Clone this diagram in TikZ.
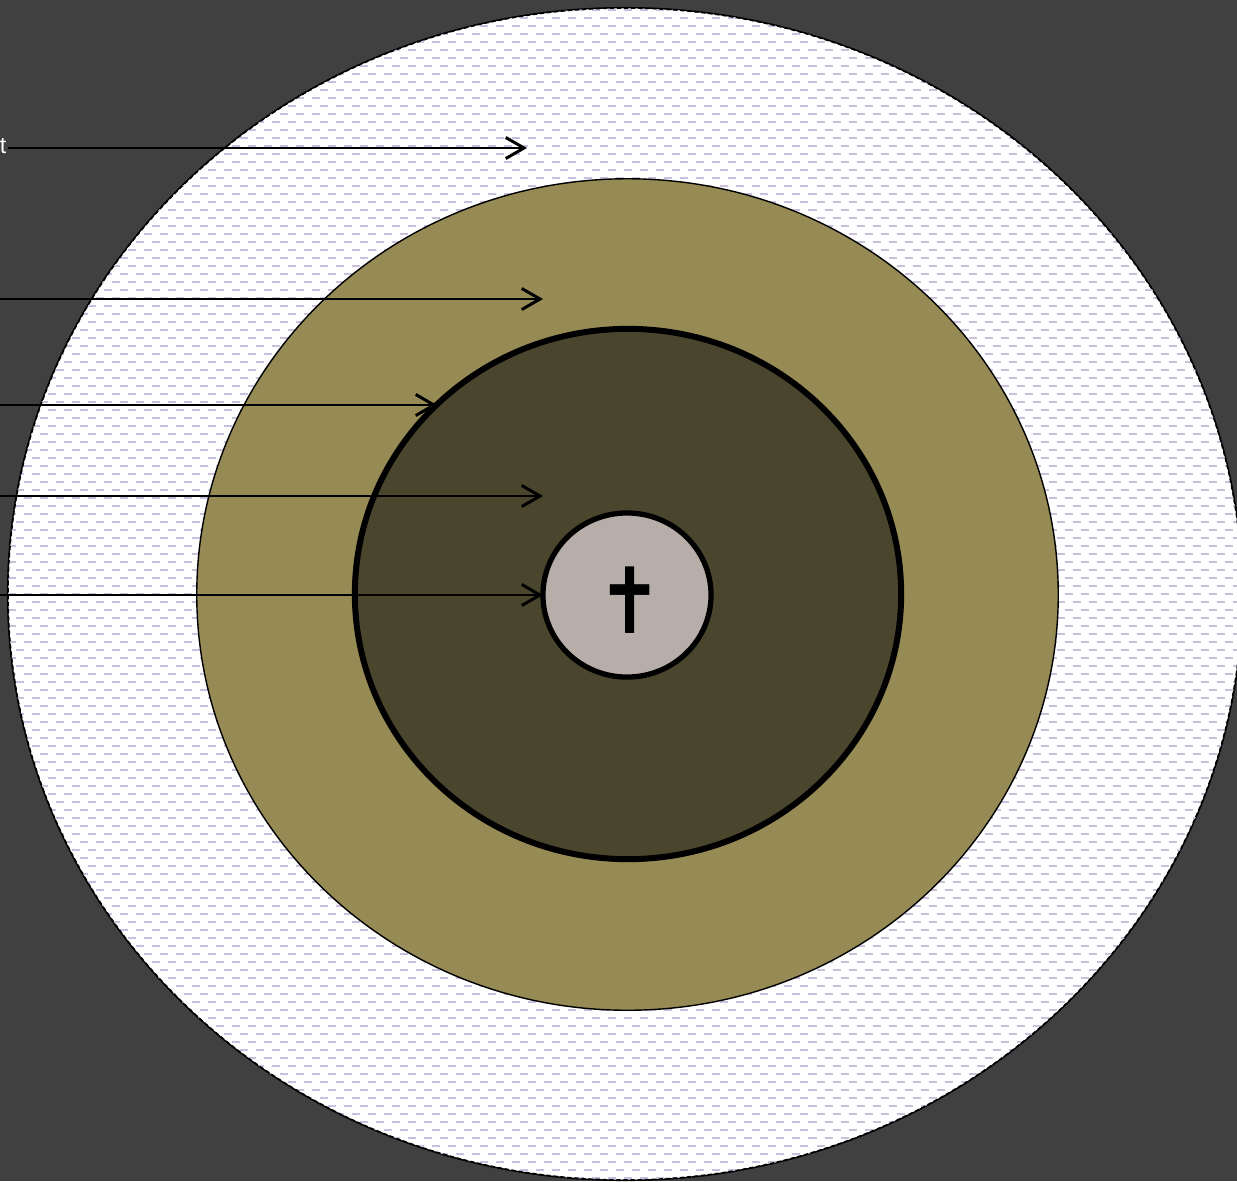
\documentclass[tikz,border=0pt]{standalone}
\usepackage{fontspec}
\setmainfont{Liberation Sans}
\newfontfamily\crossfont{DejaVu Sans}
\usetikzlibrary{shapes.geometric,arrows.meta}
\definecolor{bgc}{HTML}{404040}
\definecolor{olive}{HTML}{968A55}
\definecolor{darkolive}{HTML}{4A452D}
\definecolor{innerc}{HTML}{B8AEA9}
\definecolor{lav}{HTML}{C8C0DC}
\tikzset{
  ring/.style={ellipse, inner sep=0pt, draw=black},
  pointer/.style={draw=black, line width=0.8pt, -{Straight Barb[length=5.2pt,width=6pt,line width=0.85pt]}},
}
\begin{document}
\begin{tikzpicture}[x=0.01cm,y=-0.01cm]
\useasboundingbox (0,0) rectangle (1237,1181);
\fill[bgc] (0,0) rectangle (1237,1181);
% outer hatched ellipse
\node[ring, fill=white, minimum width=12.34cm, minimum height=11.72cm] (outer) at (625,594) {};
\begin{scope}
\clip (625,594) ellipse [x radius=617, y radius=586];
\foreach \i in {0,...,74} {
  \draw[lav, line width=0.55pt, dash pattern=on 0.08cm off 0.08cm] (0,{10+16*\i}) -- (1240,{10+16*\i});
  \draw[lav, line width=0.55pt, dash pattern=on 0.08cm off 0.08cm, dash phase=0.08cm] (0,{18+16*\i}) -- (1240,{18+16*\i});
}
\end{scope}
\draw[black, line width=0.45pt, dash pattern=on 1.2pt off 0.8pt] (625,594) ellipse [x radius=617, y radius=586];
% olive ellipse
\node[ring, fill=olive, line width=0.4pt, minimum width=8.61cm, minimum height=8.31cm] (olivering) at (627.5,594.5) {};
% dark ellipse
\node[ring, fill=darkolive, line width=1.7pt, minimum width=5.46cm, minimum height=5.30cm] (darkring) at (628,594) {};
% inner circle
\node[ring, fill=innerc, line width=1.5pt, minimum width=1.68cm, minimum height=1.64cm] (core) at (627,595) {};
\node[xscale=0.85, transform shape] (cross) at (630,600) {\crossfont\fontsize{26pt}{26pt}\selectfont ✝};
% label fragment
\node[anchor=base east, text=white, inner sep=0pt, font=\fontsize{6.6pt}{7pt}\selectfont] (lbl) at (7,153) {t};
% arrow endpoints
\coordinate (s1) at (8,148);   \coordinate (e1) at (527,148);
\coordinate (s2) at (0,299);   \coordinate (e2) at (543,299);
\coordinate (s3) at (0,405);   \coordinate (e3) at (437,405);
\coordinate (s4) at (0,496);   \coordinate (e4) at (543,496);
\coordinate (s5) at (0,595);   \coordinate (e5) at (543,595);
\draw[pointer] (s1) -- (e1);
\draw[pointer] (s2) -- (e2);
\draw[pointer] (s3) -- (e3);
\draw[pointer] (s4) -- (e4);
\draw[pointer] (s5) -- (e5);
\end{tikzpicture}
\end{document}
